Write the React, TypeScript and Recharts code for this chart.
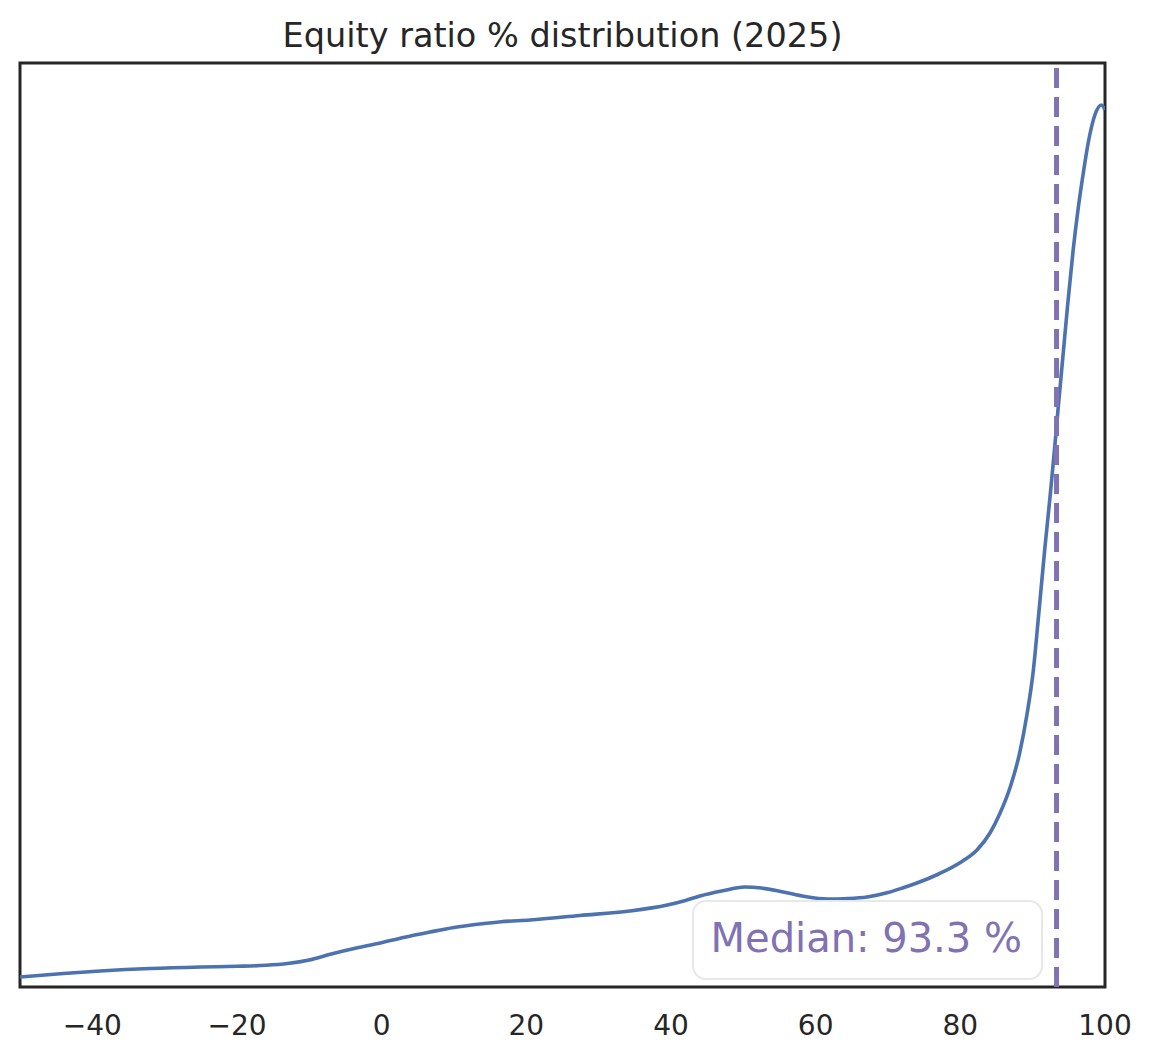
import React from 'react';
import { LineChart, Line, XAxis, YAxis, ReferenceLine, ReferenceArea } from 'recharts';

const equityRatio = [
  -50, -44, -38.9, -32, -25, -20, -16, -13, -10, -6.7, -3.5, -0.2, 3, 6.7, 10, 13.6, 16.5,
  20.5, 27.4, 34.3, 39.5, 42, 44, 47, 50.2, 52.5, 55.5, 58.5, 61.6, 64.5, 67.1, 70, 72, 74,
  77, 80, 82.3, 84.1, 85.5, 86.9, 88.2, 89.2, 90.1, 90.8, 91.7, 92.4, 93.0, 93.5, 94.2, 94.9,
  95.6, 96.3, 97.0, 97.7, 98.6, 99.5, 100,
];
const density = [
  10, 13.5, 16, 18.5, 20, 20.7, 21.7, 23.5, 27, 33.5, 39, 44, 49.5, 55, 59.5, 63, 65.3,
  67, 71.5, 76, 82, 86.5, 91, 96, 100, 99, 95, 90.5, 88, 88.5, 90, 94.5, 99, 104,
  113, 124.5, 137, 154, 174, 200, 234, 272, 317, 370, 440, 490, 536, 577, 632, 687,
  737, 779, 814, 845, 872, 882, 877,
];
const xTicks = [-40, -20, 0, 20, 40, 60, 80, 100];
const medianValue = 93.3;
const title = 'Equity ratio % distribution (2025)';
const medianLabel = `Median: ${medianValue} %`;

const data = equityRatio.map((x, i) => ({ x, density: density[i] }));

const FONT = '"DejaVu Sans", Verdana, sans-serif';

export default function App() {
  return (
    <div
      style={{
        position: 'absolute',
        left: 0,
        top: 0,
        width: 1154,
        height: 1062,
        background: '#ffffff',
        fontFamily: FONT,
      }}
    >
      <div
        style={{
          position: 'absolute',
          left: 20,
          width: 1085,
          top: 19,
          textAlign: 'center',
          fontSize: 33.5,
          lineHeight: '33.5px',
          color: '#262626',
          whiteSpace: 'nowrap',
        }}
      >
        {title}
      </div>
      <LineChart
        width={1154}
        height={1062}
        data={data}
        margin={{ top: 63, right: 49, bottom: 0, left: 20 }}
      >
        <XAxis
          type="number"
          dataKey="x"
          domain={[-50, 100]}
          ticks={xTicks}
          interval={0}
          allowDataOverflow
          axisLine={false}
          tickLine={false}
          tickSize={8}
          tickMargin={20}
          height={75}
          tick={{ fontSize: 28, fill: '#262626', fontFamily: FONT }}
          tickFormatter={(v: number) => String(v).replace('-', '\u2212')}
        />
        <YAxis type="number" domain={[0, 924]} hide allowDataOverflow />
        <Line
          type="monotone"
          dataKey="density"
          stroke="#4C72B0"
          strokeWidth={3.6}
          dot={false}
          activeDot={false}
          isAnimationActive={false}
        />
        <ReferenceLine
          x={medianValue}
          stroke="#8172B3"
          strokeWidth={5}
          strokeDasharray="20 9"
        />
        <ReferenceArea
          x1={-50}
          x2={100}
          y1={0}
          y2={924}
          fill="none"
          fillOpacity={0}
          stroke="#262626"
          strokeWidth={3}
          strokeOpacity={1}
        />
      </LineChart>
      <div
        style={{
          position: 'absolute',
          left: 692,
          top: 900,
          width: 351,
          height: 80,
          boxSizing: 'border-box',
          border: '2px solid #e8e8e8',
          borderRadius: 14,
          background: 'rgba(255,255,255,0.8)',
        }}
      >
        <div
          style={{
            position: 'absolute',
            right: 19,
            top: 16,
            fontSize: 40,
            lineHeight: '40px',
            color: '#8172B3',
            whiteSpace: 'nowrap',
          }}
        >
          {medianLabel}
        </div>
      </div>
    </div>
  );
}
